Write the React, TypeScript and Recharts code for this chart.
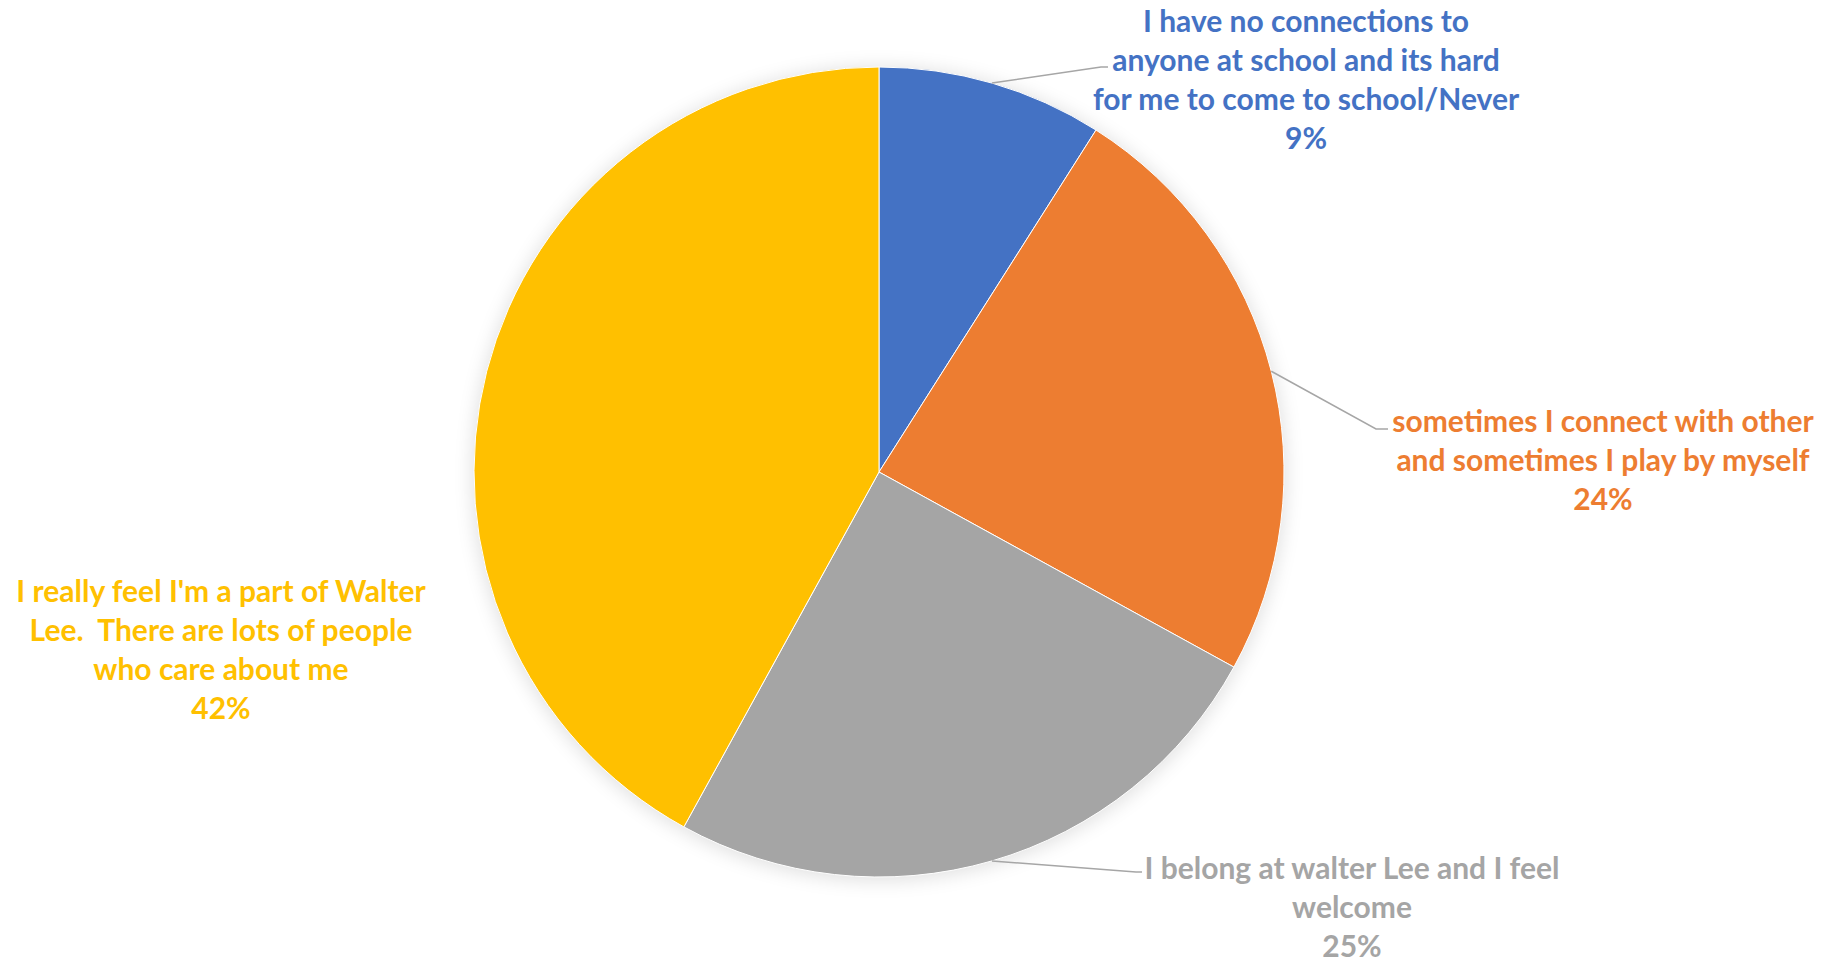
import { PieChart, Pie, Cell } from "recharts";

// survey answers, share of students
const categories = [
    "I have no connections to anyone at school and its hard for me to come to school/Never",
    "sometimes I connect with other and sometimes I play by myself",
    "I belong at walter Lee and I feel welcome",
    "I really feel I'm a part of Walter Lee.  There are lots of people who care about me",
];
const values = [9, 24, 25, 42];

// wrapped label text, as in the original
const labelLines = [
    ["I have no connections to", "anyone at school and its hard", "for me to come to school/Never"],
    ["sometimes I connect with other", "and sometimes I play by myself"],
    ["I belong at walter Lee and I feel", "welcome"],
    ["I really feel I'm a part of Walter", "Lee.  There are lots of people", "who care about me"],
];

const COLORS = ["#4472C4", "#ED7D31", "#A5A5A5", "#FFC000"];

// label placement (center x, first line y) and leader elbow/end
const LABEL_POS = [
    { x: 1306, y: 20, line: [[1101, 67], [1108, 67]] },
    { x: 1603, y: 420, line: [[1376, 429], [1388, 429]] },
    { x: 1352, y: 867, line: [[1136, 872], [1142, 872]] },
    { x: 221, y: 590, line: null },
];
const LINE_H = 39;

const data = categories.map((name, i) => ({ name, value: values[i] }));

const RADIAN = Math.PI / 180;

const renderLabel = (props: any) => {
    const { cx, cy, midAngle, outerRadius, index, percent } = props;
    const pos = LABEL_POS[index];
    const color = COLORS[index];
    const lines = [...labelLines[index], `${Math.round(percent * 100)}%`];
    const sx = cx + outerRadius * Math.cos(-midAngle * RADIAN);
    const sy = cy + outerRadius * Math.sin(-midAngle * RADIAN);

    return (
        <g key={`lbl-${index}`}>
            {pos.line && (
                <polyline
                    points={`${sx},${sy} ${pos.line[0][0]},${pos.line[0][1]} ${pos.line[1][0]},${pos.line[1][1]}`}
                    fill="none"
                    stroke="#A6A6A6"
                    strokeWidth={1.5}
                />
            )}
            {lines.map((t, i) => (
                <text
                    key={i}
                    x={pos.x}
                    y={pos.y + i * LINE_H}
                    textAnchor="middle"
                    dominantBaseline="central"
                    fill={color}
                    style={{ whiteSpace: "pre" }}
                    fontFamily="Lato, 'Open Sans', sans-serif"
                    fontWeight="bold"
                    fontSize={30}
                >
                    {t}
                </text>
            ))}
        </g>
    );
};

export default function App() {
    return (
        <div style={{ position: "absolute", left: 0, top: 0, width: 1836, height: 962, background: "#fff" }}>
            <style>{`.pie-shadow { filter: blur(7px); opacity: 0.35; }`}</style>
            <PieChart width={1836} height={962} margin={{ top: 0, right: 0, bottom: 0, left: 0 }}>
                <Pie
                    className="pie-shadow"
                    data={data}
                    dataKey="value"
                    cx={879}
                    cy={474}
                    outerRadius={407}
                    startAngle={90}
                    endAngle={-270}
                    fill="#000"
                    stroke="none"
                    label={false}
                    labelLine={false}
                    isAnimationActive={false}
                />
                <Pie
                    data={data}
                    dataKey="value"
                    nameKey="name"
                    cx={879}
                    cy={472}
                    outerRadius={405}
                    startAngle={90}
                    endAngle={-270}
                    stroke="#ffffff"
                    strokeWidth={1}
                    label={renderLabel}
                    labelLine={false}
                    isAnimationActive={false}
                >
                    {data.map((d, i) => (
                        <Cell key={d.name} fill={COLORS[i]} />
                    ))}
                </Pie>
            </PieChart>
        </div>
    );
}
